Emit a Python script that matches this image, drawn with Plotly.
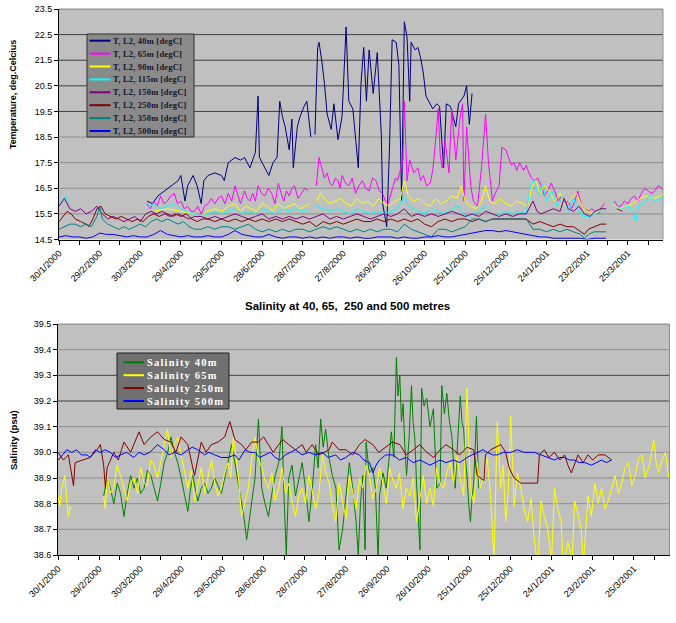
import pandas as pd
import plotly.graph_objects as go

W, H = 676, 623
START = pd.Timestamp("2000-01-30")
END_DAY = 446
FONT = "Liberation Sans, Arial, sans-serif"
SERIF = "Liberation Serif, Times New Roman, serif"

# ---------------- Temperature data (days since 30/1/2000, deg C) ----------------
t40_days = [65, 69, 73, 78, 83, 88, 90, 93, 95, 99,
            102, 105, 107, 110, 115, 120, 122, 125, 130, 134,
            137, 141, 145, 147, 148, 152, 155, 158, 161, 163,
            165, 167, 170, 172, 173, 176, 178, 181, 183, 186,
            187, 189, 191, 192, 194, 196, 198, 201, 203, 206,
            209, 212, 214, 217, 219, 221, 223, 225, 227, 229,
            232, 235, 238, 239, 242, 244, 246, 249, 251, 253,
            255, 257, 259, 260, 263, 265, 267, 269, 271, 275,
            276, 279, 281, 284, 286, 289, 293, 295, 299, 301,
            303, 305]
t40_vals = [16.0, 15.9, 16.2, 16.4, 16.6, 16.8, 17.0, 16.0, 16.6, 17.0,
            16.6, 15.9, 16.8, 17.0, 17.1, 17.0, 16.8, 17.5, 17.7, 17.6,
            17.7, 17.3, 17.9, 20.1, 17.7, 17.3, 17.0, 17.5, 17.7, 19.9,
            19.3, 18.9, 18.0, 19.2, 17.3, 18.9, 19.3, 19.7, 19.9, 18.5,
            None, 18.6, 22.0, 22.2, 21.5, 20.6, 19.4, 18.8, 19.8, 18.4,
            19.3, 22.8, 19.9, 19.6, 18.4, 17.3, 20.6, 22.0, 19.9, 21.9,
            20.2, 21.8, 18.6, 15.9, 15.0, 18.0, 22.3, 22.2, 21.3, 16.0,
            23.0, 22.4, 19.9, 22.2, 21.9, 22.0, 21.6, 21.0, 20.1, 19.7,
            19.6, 19.8, 19.7, 17.3, 19.8, 19.7, 18.9, 19.8, 20.1, 20.5,
            19.0, 20.2]

t65_days = [65, 67.5, 70, 72.5, 75, 77.5, 80, 82.5, 85, 87.5,
            90, 92.5, 95, 97.5, 100, 102.5, 105, 107.5, 110, 112.5,
            115, 117.5, 120, 122.5, 125, 127.5, 130, 132, 134, 137,
            139, 141, 143, 145, 147, 149.5, 152, 154.5, 157, 159.5,
            162, 164, 166, 168, 170, 172, 174, 176.5, 179, 181.5,
            184, 187, 190, 192, 194, 196, 198, 200, 202, 204,
            206, 207.5, 209, 211.5, 214, 216.5, 219, 221.5, 224, 226.5,
            229, 231.5, 234, 236.5, 239, 241, 243, 245, 247, 248.5,
            250, 252, 254, 255, 257, 259, 262, 265, 267, 269,
            271.5, 274, 276, 278, 280, 281.5, 283, 285, 288, 290,
            293, 296, 298, 299, 301, 304, 306, 309, 312, 315,
            317, 320, 322, 325, 327, 330, 332, 334, 336, 338,
            340, 343, 345, 347, 349, 351, 353.5, 356, 358.5, 361,
            363.5, 366, 368.5, 371, 373.5, 376, 378.5, 381, 383, 386,
            388.5, 391, 393.5, 396, 398.5, 401, 403, 406, 410, 412.5,
            415, 417.5, 420, 422.5, 425, 427.5, 430, 432.5, 435, 437.5,
            440, 442.5, 445, 447, 449]
t65_vals = [15.9, 15.7, 16.0, 15.8, 16.2, 15.9, 16.0, 16.2, 16.3, 15.9,
            16.0, 15.7, 15.8, 15.6, 15.6, 15.8, 15.5, 15.8, 15.9, 16.1,
            15.9, 16.1, 16.2, 15.9, 16.3, 16.0, 16.6, 16.2, 15.9, 16.4,
            16.1, 16.0, 16.3, 16.0, 16.6, 16.3, 16.2, 16.5, 16.3, 15.9,
            16.7, 16.3, 16.0, 16.4, 16.2, 16.5, 16.6, 16.1, 16.3, 16.5,
            16.4, None, 16.6, 17.7, 17.3, 16.9, 17.1, 16.7, 16.6, 16.9,
            16.8, 16.5, 17.0, 16.7, 16.6, 16.9, 16.3, 16.6, 16.8, 16.5,
            16.4, 16.9, 16.8, 16.4, 16.3, 16.0, 15.9, 16.3, 16.6, 16.9,
            16.8, 17.2, 17.6, 19.9, 16.8, 17.6, 17.1, 17.3, 16.8, 17.0,
            16.6, 16.7, 17.2, 18.3, 19.6, 17.8, 17.3, 18.4, 17.1, 19.6,
            17.6, 19.2, 19.8, 16.0, 18.9, 16.6, 16.0, 15.8, 17.3, 19.4,
            17.6, 16.0, 16.3, 16.6, 18.1, 18.0, 17.7, 17.4, 17.5, 17.2,
            17.5, 17.2, 17.4, 17.1, 16.9, 16.8, 16.9, 16.6, 16.2, 16.4,
            16.7, 16.4, 16.0, 16.2, 15.9, 16.0, 15.7, 16.0, 16.4, 15.8,
            15.7, 15.6, 15.7, 15.6, 15.5, 15.8, 15.9, None, 16.0, 15.8,
            15.8, 16.0, 15.9, 16.1, 16.2, 16.0, 16.3, 16.5, 16.4, 16.3,
            16.4, 16.6, 16.5, 16.4, 16.6]

t90_days = [70, 80, 90, 100, 105, 110, 115, 120, 125, 130,
            134, 138, 142, 146, 150, 154, 158, 162, 166, 170,
            174, 178, 182, 185, 187, 190, 193, 196, 200, 204,
            208, 212, 216, 220, 224, 228, 232, 236, 240, 244,
            248, 252, 255, 258, 262, 266, 270, 274, 278, 282,
            286, 290, 294, 297, 300, 304, 308, 312, 315, 318,
            322, 326, 330, 334, 338, 342, 346, 349, 352, 355,
            358, 362, 366, 370, 374, 378, 382, 386, 390, 394,
            398, 403, 406, 409, 414, 419, 424, 429, 434, 439,
            444, 449]
t90_vals = [15.6, 15.7, 15.6, 15.5, 15.4, 15.6, 15.7, 15.6, 15.8, 15.9,
            15.6, 15.8, 15.7, 15.6, 15.9, 15.8, 15.6, 15.9, 15.7, 15.8,
            15.9, 15.7, 15.8, 15.9, None, 16.0, 16.3, 16.1, 15.9, 16.0,
            16.1, 15.9, 15.8, 16.1, 15.9, 16.0, 15.8, 16.1, 15.9, 15.8,
            16.0, 16.1, 16.8, 16.2, 16.0, 16.1, 15.9, 15.8, 16.1, 15.9,
            16.0, 16.2, 16.1, 16.6, 16.0, 15.8, 15.7, 16.0, 16.6, 16.0,
            15.9, 16.1, 15.9, 15.8, 16.0, 15.9, 15.8, 16.5, 16.8, 16.3,
            16.6, 16.4, 16.0, 16.3, 15.8, 16.1, 16.3, 15.8, 15.6, 15.5,
            15.6, 15.7, None, 15.9, 15.7, 15.8, 15.9, 16.1, 16.2, 16.1,
            16.2, 16.4]

t115_days = [0, 3, 5, 7, 9, 10, 65, 70, 75, 80,
             85, 90, 95, 100, 105, 110, 115, 120, 125, 130,
             135, 140, 145, 150, 155, 160, 165, 170, 175, 180,
             185, 187, 190, 195, 200, 205, 210, 215, 220, 225,
             230, 235, 240, 245, 250, 255, 258, 262, 266, 270,
             275, 280, 285, 290, 295, 298, 302, 306, 310, 315,
             320, 325, 330, 335, 340, 345, 348, 351, 354, 357,
             360, 364, 368, 372, 376, 380, 384, 388, 392, 396,
             400, 403, 406, 408, 412, 416, 420, 424, 426, 428,
             432, 436, 440, 444, 449]
t115_vals = [15.8, 16.1, 16.2, 15.9, 15.8, None, 15.7, 15.9, 15.7, 15.8,
             15.9, 15.7, 15.6, 15.5, 15.4, 15.5, 15.6, 15.5, 15.6, 15.7,
             15.5, 15.6, 15.5, 15.7, 15.6, 15.5, 15.7, 15.6, 15.7, 15.6,
             15.7, None, 15.8, 15.7, 15.6, 15.7, 15.6, 15.5, 15.7, 15.6,
             15.5, 15.6, 15.5, 15.6, 15.7, 16.2, 15.8, 15.7, 15.6, 15.5,
             15.7, 15.6, 15.5, 15.7, 15.8, 15.5, 15.4, 15.5, 15.6, 15.8,
             15.5, 15.5, 15.6, 15.5, 15.6, 15.5, 16.6, 16.8, 16.2, 16.7,
             16.0, 16.4, 15.8, 16.2, 15.6, 16.1, 15.6, 15.4, 15.4, 15.5,
             15.6, 15.7, None, 16.0, 15.8, 15.7, 15.8, 15.6, 15.2, 15.8,
             15.9, 16.2, 16.0, 16.1, 16.3]

t150_days = [0, 4, 8, 12, 16, 20, 24, 28, 32, 36,
             40, 44, 48, 52, 56, 60, 64, 68, 72, 76,
             80, 84, 88, 92, 96, 100, 105, 110, 115, 120,
             125, 130, 135, 140, 145, 150, 155, 160, 165, 170,
             175, 180, 185, 190, 195, 200, 205, 210, 215, 220,
             225, 230, 235, 240, 245, 250, 255, 260, 265, 270,
             275, 280, 285, 290, 295, 300, 305, 310, 315, 320,
             325, 330, 335, 340, 345, 350, 353, 356, 360, 365,
             370, 373, 376, 380, 384, 388, 392, 396, 400, 404,
             408, 412, 416]
t150_vals = [15.8, 16.1, 15.7, 15.6, 15.7, 15.5, 15.6, 15.8, 15.5, 15.3,
             15.4, 15.3, 15.2, 15.3, 15.4, 15.2, 15.5, 15.6, 15.5, 15.6,
             15.5, 15.4, 15.5, 15.4, 15.3, 15.4, 15.4, 15.3, 15.4, 15.3,
             15.4, 15.5, 15.4, 15.3, 15.4, 15.5, 15.3, 15.4, 15.3, 15.4,
             15.3, 15.4, 15.3, 15.4, 15.5, 15.3, 15.4, 15.3, 15.4, 15.5,
             15.4, 15.3, 15.4, 15.5, 15.4, 15.5, 15.7, 15.4, 15.5, 15.4,
             15.5, 15.4, 15.5, 15.6, 15.5, 15.4, 15.5, 15.4, 15.6, 15.5,
             15.4, 15.5, 15.4, 15.5, 15.5, 16.0, 15.6, 15.5, 15.6, 15.7,
             15.6, 16.1, 15.7, 15.6, 15.8, 15.5, 15.4, 15.6, 15.7, 15.7,
             None, 15.7, 15.6]

t250_days = [0, 3, 6, 9, 12, 16, 20, 22, 25, 28,
             31, 34, 38, 42, 46, 50, 54, 58, 62, 66,
             70, 74, 78, 82, 86, 90, 94, 98, 102, 106,
             110, 115, 120, 125, 130, 135, 140, 145, 150, 155,
             160, 165, 170, 175, 180, 185, 190, 195, 200, 205,
             210, 215, 220, 225, 230, 235, 240, 245, 250, 255,
             260, 265, 270, 275, 280, 285, 290, 295, 300, 305,
             310, 315, 320, 325, 330, 335, 340, 345, 350, 355,
             360, 365, 370, 375, 380, 385, 388, 391, 395, 400,
             404]
t250_vals = [15.2, 15.4, 15.6, 15.5, 15.3, 15.2, 15.1, 15.0, 15.3, 15.7,
             15.8, 15.5, 15.4, 15.3, 15.4, 15.3, 15.2, 15.3, 15.2, 15.4,
             15.5, 15.4, 15.5, 15.4, 15.5, 15.4, 15.5, 15.3, 15.2, 15.3,
             15.3, 15.2, 15.3, 15.2, 15.3, 15.2, 15.3, 15.2, 15.3, 15.2,
             15.3, 15.2, 15.3, 15.2, 15.1, 15.2, 15.0, 15.2, 15.1, 15.2,
             15.1, 15.2, 15.3, 15.2, 15.2, 15.3, 15.2, 15.3, 15.2, 15.3,
             15.2, 15.3, 15.1, 15.0, 15.2, 15.3, 15.2, 15.3, 15.3, 15.2,
             15.3, 15.2, 15.3, 15.3, 15.3, 15.3, 15.3, 15.3, 15.1, 15.2,
             15.1, 15.0, 15.1, 15.0, 15.0, 14.8, 14.7, 14.9, 15.0, 15.1,
             15.1]

t350_days = [0, 4, 8, 12, 16, 20, 24, 28, 30, 32,
             36, 40, 44, 48, 52, 56, 60, 64, 68, 72,
             76, 80, 84, 88, 92, 96, 100, 105, 110, 115,
             120, 125, 130, 135, 140, 145, 150, 155, 160, 165,
             170, 175, 180, 185, 190, 195, 200, 205, 210, 215,
             220, 225, 230, 235, 240, 245, 250, 255, 260, 265,
             270, 275, 280, 285, 290, 295, 300, 305, 310, 315,
             320, 325, 330, 335, 340, 345, 350, 355, 360, 365,
             370, 375, 380, 385, 388, 391, 395, 400, 404]
t350_vals = [14.9, 15.0, 15.1, 15.1, 15.0, 15.1, 15.0, 15.4, 15.8, 15.3,
             15.1, 15.0, 14.9, 15.0, 14.9, 15.0, 15.1, 15.0, 15.2, 15.3,
             15.2, 15.3, 15.2, 15.1, 15.2, 15.0, 14.9, 14.9, 15.0, 14.9,
             15.0, 15.0, 14.9, 15.0, 15.1, 14.9, 14.8, 14.9, 14.8, 14.9,
             14.8, 14.9, 14.9, 14.8, 14.9, 15.0, 14.9, 15.0, 14.9, 14.8,
             14.9, 14.8, 14.9, 14.8, 14.9, 14.9, 14.8, 15.1, 14.9, 14.8,
             14.7, 14.6, 14.9, 14.9, 14.8, 14.9, 15.0, 15.3, 15.3, 15.2,
             15.3, 15.3, 15.3, 15.3, 15.3, 15.3, 14.9, 14.9, 14.8, 14.9,
             14.8, 14.9, 14.8, 14.7, 14.55, 14.7, 14.8, 14.8, 14.8]

t500_days = [0, 5, 10, 15, 20, 25, 30, 35, 40, 45,
             50, 55, 60, 65, 70, 75, 80, 85, 90, 95,
             100, 105, 110, 115, 120, 125, 130, 135, 140, 145,
             150, 155, 160, 165, 170, 175, 180, 185, 190, 195,
             200, 205, 210, 215, 220, 225, 230, 235, 240, 245,
             250, 255, 260, 265, 270, 275, 280, 285, 290, 295,
             300, 305, 310, 315, 320, 325, 330, 335, 340, 345,
             350, 355, 360, 365, 370, 375, 380, 385, 390, 395,
             400, 404]
t500_vals = [14.6, 14.65, 14.6, 14.6, 14.55, 14.6, 14.75, 14.7, 14.7, 14.65,
             14.6, 14.65, 14.6, 14.6, 14.7, 14.85, 14.7, 14.65, 14.6, 14.65,
             14.6, 14.6, 14.65, 14.6, 14.6, 14.7, 14.85, 14.7, 14.65, 14.6,
             14.6, 14.7, 14.6, 14.55, 14.6, 14.6, 14.55, 14.6, 14.55, 14.6,
             14.55, 14.6, 14.6, 14.55, 14.6, 14.55, 14.55, 14.6, 14.6, 14.6,
             14.55, 14.6, 14.55, 14.55, 14.6, 14.6, 14.65, 14.6, 14.6, 14.65,
             14.7, 14.75, 14.8, 14.85, 14.85, 14.8, 14.85, 14.8, 14.75, 14.7,
             14.65, 14.6, 14.6, 14.55, 14.55, 14.55, 14.55, 14.55, 14.5, 14.55,
             14.55, 14.55]

# ---------------- Salinity data (days since 30/1/2000, psu) ----------------
s40_days = [33.3, 35.8, 38.2, 40.7, 43.2, 45.6, 48.1, 50.5, 53, 55.4,
            57.9, 60.3, 62.8, 65.2, 67.7, 70.1, 72.6, 75, 77.5, 80,
            82.4, 84.9, 87.3, 89.8, 92.2, 94.7, 96.5, 98.3, 100, 102,
            104.5, 106.9, 109.4, 111.8, 114.3, 116.7, 119.2, 121.6, 124.1, 126.6,
            129, 131.5, 133.9, 135.8, 137.6, 139.5, 141.3, 143.7, 146.2, 148.6,
            151, 153.5, 156, 158.4, 161, 163.4, 164.6, 166.5, 168.3, 170.7,
            173.2, 175.6, 178.1, 180.5, 183, 185.5, 187.9, 189.7, 191.6, 193.4,
            195.2, 197.6, 200.1, 202.7, 205, 207.6, 210, 212.5, 215, 217.4,
            219, 220.6, 222.3, 224, 224.7, 227, 229.6, 231.5, 233.5, 234.5,
            237, 239.4, 241.2, 243.1, 245, 246.8, 248, 249.3, 250.5, 251.7,
            253, 254.2, 256, 257.8, 259, 260.3, 261.5, 262.7, 264, 265.2,
            267, 268.9, 271.3, 273.8, 275, 276.2, 278.7, 279.9, 281.8, 283.6,
            285.5, 287.3, 288.5, 289.7, 291.5, 293.4, 294.6, 295.9, 297, 298.3,
            299.5, 300.8, 302, 303.2, 305.2, 306.9]
s40_vals = [38.83, 38.90, 38.86, 38.80, 38.88, 38.84, 38.75, 38.84, 38.91, 38.86,
            38.90, 38.84, 38.86, 38.93, 38.91, 38.86, 38.81, 38.88, 38.96, 39.00,
            39.06, 39.00, 38.96, 38.90, 38.83, 38.77, 38.85, 38.91, 38.86, 38.81,
            38.86, 38.88, 38.84, 38.86, 38.90, 38.87, 38.84, 38.90, 38.96, 39.03,
            38.96, 38.88, 38.81, 38.74, 38.66, 38.74, 38.81, 38.90, 39.13, 38.86,
            38.80, 38.75, 38.84, 38.91, 38.96, 39.10, 38.86, 38.60, 38.90, 38.95,
            38.83, 38.90, 38.96, 38.86, 38.73, 38.86, 39.03, 38.94, 39.13, 39.02,
            39.09, 38.98, 38.91, 38.86, 38.62, 38.70, 38.84, 38.96, 38.86, 38.73,
            38.60, 38.80, 38.91, 38.62, 39.04, 38.92, 38.94, 38.86, 38.58, 38.83,
            38.92, 38.86, 38.96, 39.08, 38.98, 39.37, 39.22, 39.30, 39.12, 39.19,
            39.02, 38.91, 39.05, 39.26, 39.12, 39.05, 38.88, 38.73, 38.62, 39.25,
            39.18, 39.21, 39.10, 39.17, 39.02, 38.86, 38.88, 39.26, 39.15, 39.23,
            39.12, 39.06, 38.95, 38.86, 39.04, 39.22, 39.12, 39.09, 38.98, 38.91,
            38.80, 38.73, 38.82, 38.88, 39.14, 38.86]

s65_days = [0, 1.5, 2.7, 5.1, 6.4, 7.6, 8.8, 10, 11, 33.3,
            34.5, 35.8, 38.2, 40.7, 43, 45.6, 48, 50.5, 53, 55.4,
            58, 60.3, 62.8, 65.2, 67.5, 70.1, 72.5, 75, 77.5, 79.9,
            82.4, 84.9, 87.3, 89.8, 92.2, 94.7, 97, 99.6, 102, 104.5,
            107, 109.4, 112, 114.3, 116.7, 119.2, 121.6, 124.1, 126, 127.8,
            129.6, 131.5, 133.9, 136, 138.8, 141, 143.7, 146, 148.6, 151,
            153.5, 156, 158.4, 161, 163.4, 166, 168.3, 171, 173.2, 175.6,
            178.1, 180.5, 183, 185.5, 187.9, 190.3, 192.8, 195, 197.7, 200,
            202.6, 205, 207.6, 210, 212.5, 215, 217.4, 220, 222.3, 224.7,
            227.2, 229.6, 232.1, 234.5, 237, 239.5, 241.9, 244.3, 246.8, 249,
            251.7, 254, 256.6, 259, 261.5, 264, 266.4, 268.8, 271.3, 273.8,
            276.2, 278.6, 281.1, 283.6, 286.1, 288.5, 291, 293.4, 295.9, 298.3,
            300.8, 303.2, 305.7, 308, 310.6, 313, 315.5, 318, 320.4, 322.9,
            324.7, 326.5, 328.4, 330.2, 332.7, 335, 337.6, 340, 342.5, 345,
            347.4, 350, 352.3, 354.8, 357.2, 360, 362.1, 364.5, 367, 368.5,
            371.9, 375, 376.8, 379.2, 381.7, 383, 386.6, 389, 391.5, 394,
            396.4, 399, 401.3, 403.8, 406.3, 408.7, 411.2, 413.6, 416.1, 418.5,
            421, 423.5, 425.9, 428.3, 430.8, 432.6, 434.5, 436.3, 438.1, 440.5,
            443, 445.5, 448]
s65_vals = [38.83, 38.79, 38.86, 38.91, 38.81, 38.75, 38.79, 38.78, None, 38.83,
            38.78, 38.91, 38.84, 38.86, 38.95, 38.91, 38.86, 38.81, 38.88, 38.90,
            38.84, 38.94, 38.88, 38.87, 38.97, 38.95, 38.90, 38.96, 39.02, 39.09,
            38.98, 39.03, 39.06, 38.99, 38.92, 38.86, 38.93, 38.81, 38.87, 38.94,
            38.84, 38.91, 38.97, 38.88, 38.83, 38.86, 38.92, 38.96, 38.90, 39.06,
            38.98, 38.91, 38.75, 38.80, 38.86, 38.96, 39.06, 38.98, 38.94, 38.89,
            38.86, 38.92, 38.81, 38.86, 38.94, 38.84, 38.88, 38.80, 38.75, 38.83,
            38.86, 38.80, 38.91, 38.85, 38.78, 38.84, 38.99, 38.93, 38.88, 38.80,
            38.73, 38.88, 38.81, 38.74, 38.91, 38.85, 38.78, 38.90, 38.86, 38.95,
            38.91, 38.82, 38.86, 38.94, 38.88, 38.80, 38.94, 38.89, 38.86, 38.92,
            38.78, 38.86, 38.83, 38.90, 38.73, 38.82, 38.91, 38.80, 38.86, 38.79,
            38.94, 38.88, 38.86, 38.92, 38.96, 38.88, 38.99, 38.90, 38.83, 39.25,
            38.86, 38.80, 38.96, 38.86, 38.91, 38.98, 38.83, 38.58, 39.12, 38.86,
            38.95, 38.73, 38.85, 39.14, 38.79, 38.92, 38.86, 38.78, 38.73, 38.82,
            38.66, 38.55, 38.81, 38.75, 38.70, 38.57, 38.86, 38.78, 38.73, 38.55,
            38.65, 38.58, 38.81, 38.76, 38.70, 38.55, 38.83, 38.75, 38.88, 38.80,
            38.86, 38.78, 38.81, 38.86, 38.91, 38.84, 38.88, 38.94, 38.96, 38.87,
            38.91, 38.98, 38.99, 38.90, 38.94, 38.99, 39.05, 38.96, 38.92, 38.97,
            39.00, 38.90, 38.94]

s250_days = [0, 3.9, 7.6, 11.3, 12.5, 18.6, 23.5, 28.4, 30.9, 33.3,
             34.6, 35.8, 40.7, 44, 48.1, 53, 59.1, 62.8, 67.7, 72.6,
             77.5, 82.4, 86, 89.8, 94.7, 98.3, 99.6, 104.5, 108, 111.8,
             116.7, 121.6, 125.3, 129, 133.9, 137, 141.3, 146.2, 150, 153.5,
             157, 160.9, 164, 168.3, 173.2, 178.1, 181, 185.4, 190.3, 197.7,
             200, 205, 210, 215, 219.8, 224, 229.6, 234, 239.4, 244,
             249.3, 254, 259.1, 264, 268.9, 274, 278.7, 283, 288.5, 293,
             298.3, 303.2, 305.7, 308.1, 310.6, 311.8, 315.5, 322.9, 326.5, 329,
             332.7, 337.6, 344.9, 349.8, 351.1, 354.7, 358, 362.1, 366, 369.5,
             371.9, 374.4, 379.3, 383, 386.6, 390, 394, 398.9, 403.8]
s250_vals = [39.00, 38.97, 38.99, 38.87, 38.96, 38.97, 38.98, 39.01, 39.03, 38.95,
             38.86, 38.94, 39.00, 38.97, 39.04, 39.00, 39.08, 39.03, 39.06, 39.08,
             39.05, 39.04, 39.00, 39.06, 39.03, 38.94, 38.91, 39.04, 39.00, 39.03,
             39.04, 39.06, 39.12, 39.05, 39.03, 39.01, 39.04, 39.04, 39.06, 39.03,
             39.00, 39.03, 39.05, 39.03, 39.01, 39.03, 39.00, 39.03, 38.99, 39.01,
             39.04, 39.01, 39.01, 38.99, 39.03, 39.05, 39.03, 39.00, 39.02, 39.04,
             39.03, 38.99, 39.01, 39.03, 39.00, 38.98, 39.01, 39.03, 39.01, 38.99,
             39.02, 39.01, 38.91, 38.90, 38.89, 38.99, 39.01, 39.03, 39.00, 38.94,
             38.90, 38.88, 38.88, 38.88, 38.99, 39.01, 38.98, 39.00, 38.97, 38.99,
             38.95, 38.92, 38.99, 38.96, 38.99, 38.97, 38.99, 38.99, 38.97]

s500_days = [0.2, 6.4, 10, 13.7, 17, 21.1, 23.5, 27.2, 30.9, 34.5,
             38.2, 42, 45.6, 50, 55.4, 59, 62.8, 67, 72.6, 77.5,
             81, 84.9, 90, 94.7, 98, 102, 106.9, 110, 114.3, 119,
             124.1, 129, 132, 136.4, 140, 143.7, 147, 151.1, 155, 158.4,
             162, 165.8, 170, 173.2, 178, 183, 188, 192.8, 197, 202.6,
             206, 210, 215, 219.8, 223, 227.2, 229.6, 232, 234.5, 239,
             244.4, 249, 254.2, 259, 264, 268, 271.3, 275, 278.7, 283,
             288.5, 293, 298.3, 302, 305.7, 310, 313, 317, 320.4, 325,
             330.2, 335, 340, 344, 347.4, 352.3, 357, 362.1, 366, 369.5,
             373, 376.8, 380, 384.2, 389.1, 393, 396.4, 400, 403.8]
s500_vals = [38.97, 39.01, 39.00, 39.01, 38.99, 38.99, 38.98, 39.01, 39.00, 39.01,
             39.00, 38.98, 38.99, 39.00, 38.98, 39.00, 38.99, 39.00, 39.03, 39.01,
             38.99, 39.00, 38.99, 39.01, 39.02, 39.01, 38.99, 39.00, 38.99, 38.98,
             38.98, 38.99, 38.97, 39.01, 39.00, 39.00, 38.98, 38.99, 39.00, 38.98,
             38.97, 38.99, 39.00, 39.01, 38.99, 39.00, 38.99, 39.00, 38.98, 38.99,
             38.97, 38.98, 39.00, 38.99, 38.97, 38.96, 38.92, 38.95, 38.97, 38.99,
             38.99, 38.97, 38.98, 38.96, 38.97, 38.96, 38.95, 38.96, 38.97, 38.96,
             38.97, 38.96, 38.98, 38.99, 39.00, 39.01, 39.00, 38.99, 38.99, 39.00,
             39.00, 39.01, 39.00, 39.00, 39.00, 38.99, 38.98, 38.97, 38.98, 38.98,
             38.97, 38.97, 38.96, 38.96, 38.95, 38.96, 38.97, 38.96, 38.97]

# ---------------- Labels, colours, ticks ----------------
temp_labels = ["T, L2, 40m [degC]", "T, L2, 65m [degC]", "T, L2, 90m [degC]",
               "T, L2, 115m [degC]", "T, L2, 150m [degC]", "T, L2, 250m [degC]",
               "T, L2, 350m [degC]", "T, L2, 500m [degC]"]
temp_colors = ["#000080", "#FF00FF", "#FFFF00", "#00FFFF",
               "#800080", "#800000", "#008080", "#0000FF"]
temp_series = [(t40_days, t40_vals), (t65_days, t65_vals), (t90_days, t90_vals),
               (t115_days, t115_vals), (t150_days, t150_vals), (t250_days, t250_vals),
               (t350_days, t350_vals), (t500_days, t500_vals)]

sal_labels = ["Salinity 40m", "Salinity 65m", "Salinity 250m", "Salinity 500m"]
sal_colors = ["#008000", "#FFFF00", "#800000", "#0000FF"]
sal_series = [(s40_days, s40_vals), (s65_days, s65_vals),
              (s250_days, s250_vals), (s500_days, s500_vals)]

temp_ticks = [14.5, 15.5, 16.5, 17.5, 18.5, 19.5, 20.5, 21.5, 22.5, 23.5]
sal_ticks = [38.6, 38.7, 38.8, 38.9, 39.0, 39.1, 39.2, 39.3, 39.4, 39.5]
temp_dark_grid = [19.5, 20.5, 21.5, 22.5]
sal_dark_grid = [39.2, 39.3]

temp_ytitle = "Temperature, deg.Celcius"
sal_ytitle = "Salinity (psu)"
sal_title = "Salinity at 40, 65,  250 and 500 metres"

# plot-area geometry in page pixels (left, right, top, bottom)
TOP_BOX = (59, 663, 9, 239.5)
BOT_BOX = (58, 669.5, 324, 555)


def to_dates(days):
    return [START + pd.to_timedelta(round(float(d) * 1440), unit="m") for d in days]


def px_x(p):
    return p / W


def px_y(p):
    return 1 - p / H


fig = go.Figure()

for (days, vals), name, col in zip(temp_series, temp_labels, temp_colors):
    assert len(days) == len(vals), name
    fig.add_trace(go.Scatter(x=to_dates(days), y=vals, mode="lines", name=name,
                             line=dict(color=col, width=1), xaxis="x", yaxis="y",
                             connectgaps=False, hoverinfo="skip"))

for (days, vals), name, col in zip(sal_series, sal_labels, sal_colors):
    assert len(days) == len(vals), name
    fig.add_trace(go.Scatter(x=to_dates(days), y=vals, mode="lines", name=name,
                             line=dict(color=col, width=1), xaxis="x2", yaxis="y2",
                             connectgaps=False, hoverinfo="skip"))

xrange = [START.strftime("%Y-%m-%d"), (START + pd.Timedelta(days=END_DAY)).strftime("%Y-%m-%d")]
DAY_MS = 86400000
xcommon = dict(type="date", range=xrange, tick0="2000-01-30", dtick=30 * DAY_MS,
               tickformat="%-d/%-m/%Y", tickangle=-45, ticks="outside", ticklen=4,
               tickcolor="black", showline=True, linecolor="black", linewidth=1,
               showgrid=False, zeroline=False, automargin=False,
               tickfont=dict(family=FONT, size=9, color="black"),
               minor=dict(dtick=15 * DAY_MS, tick0="2000-01-30", ticks="outside",
                          ticklen=4, tickcolor="black", showgrid=False))
ycommon = dict(ticks="outside", ticklen=4, tickcolor="black", showline=True,
               linecolor="black", linewidth=1, showgrid=False, zeroline=False,
               tickmode="array", tickformat=".1f", automargin=False,
               tickfont=dict(family=FONT, size=9, color="black"))

fig.update_layout(
    width=W, height=H, margin=dict(l=0, r=0, t=0, b=0, autoexpand=False),
    paper_bgcolor="white", plot_bgcolor="#C0C0C0", showlegend=False,
    xaxis=dict(domain=[px_x(TOP_BOX[0]), px_x(TOP_BOX[1])], anchor="y", **xcommon),
    yaxis=dict(domain=[px_y(TOP_BOX[3]), px_y(TOP_BOX[2])], anchor="x", range=[14.5, 23.5],
               tickvals=temp_ticks, **ycommon),
    xaxis2=dict(domain=[px_x(BOT_BOX[0]), px_x(BOT_BOX[1])], anchor="y2", **xcommon),
    yaxis2=dict(domain=[px_y(BOT_BOX[3]), px_y(BOT_BOX[2])], anchor="x2", range=[38.6, 39.5],
                tickvals=sal_ticks, **ycommon),
)

shapes = []
# horizontal gridlines (drawn under the traces)
for ticks, dark, yref, box in ((temp_ticks, temp_dark_grid, "y", TOP_BOX),
                               (sal_ticks, sal_dark_grid, "y2", BOT_BOX)):
    for v in ticks[1:]:
        col = "#404040" if v in dark else "#8e8e8e"
        shapes.append(dict(type="line", xref="paper", yref=yref,
                           x0=px_x(box[0]), x1=px_x(box[1]), y0=v, y1=v,
                           line=dict(color=col, width=1), layer="below"))
    # grey frame on top and right
    shapes.append(dict(type="line", xref="paper", yref="paper",
                       x0=px_x(box[0]), x1=px_x(box[1]), y0=px_y(box[2]), y1=px_y(box[2]),
                       line=dict(color="#909090", width=1), layer="above"))
    shapes.append(dict(type="line", xref="paper", yref="paper",
                       x0=px_x(box[1]), x1=px_x(box[1]), y0=px_y(box[3]), y1=px_y(box[2]),
                       line=dict(color="#909090", width=1), layer="above"))

annotations = [
    dict(text=f"<b>{temp_ytitle}</b>", x=px_x(13), y=px_y(95), xref="paper", yref="paper",
         textangle=-90, showarrow=False, xanchor="center", yanchor="middle",
         font=dict(family=FONT, size=9, color="black")),
    dict(text=f"<b>{sal_ytitle}</b>", x=px_x(13), y=px_y(440), xref="paper", yref="paper",
         textangle=-90, showarrow=False, xanchor="center", yanchor="middle",
         font=dict(family=FONT, size=9.5, color="black")),
    dict(text=f"<b>{sal_title}</b>", x=px_x(347), y=px_y(305.5), xref="paper", yref="paper",
         showarrow=False, xanchor="center", yanchor="middle",
         font=dict(family=FONT, size=11.5, color="black")),
]

# Legend 1 (temperature)
shapes.append(dict(type="rect", xref="paper", yref="paper", x0=px_x(87), x1=px_x(194),
                   y0=px_y(137), y1=px_y(34), fillcolor="#8a8a8a",
                   line=dict(color="#303030", width=1), layer="above"))
for i, (lab, col) in enumerate(zip(temp_labels, temp_colors)):
    yc = 40.7 + i * 12.9
    shapes.append(dict(type="line", xref="paper", yref="paper", x0=px_x(89.5), x1=px_x(110.5),
                       y0=px_y(yc), y1=px_y(yc), line=dict(color=col, width=2), layer="above"))
    annotations.append(dict(text=f'<span style="letter-spacing:0.2px"><b>{lab}</b></span>',
                            x=px_x(111), y=px_y(yc), xref="paper", yref="paper",
                            showarrow=False, xanchor="left", yanchor="middle",
                            font=dict(family=SERIF, size=8.5, color="#15152a")))

# Legend 2 (salinity)
shapes.append(dict(type="rect", xref="paper", yref="paper", x0=px_x(117), x1=px_x(229),
                   y0=px_y(409), y1=px_y(353), fillcolor="#707070",
                   line=dict(color="#202020", width=1), layer="above"))
for i, (lab, col) in enumerate(zip(sal_labels, sal_colors)):
    yc = 362.3 + i * 12.9
    shapes.append(dict(type="line", xref="paper", yref="paper", x0=px_x(123.5), x1=px_x(144),
                       y0=px_y(yc), y1=px_y(yc), line=dict(color=col, width=2), layer="above"))
    annotations.append(dict(text=f'<span style="letter-spacing:1.2px"><b>{lab}</b></span>',
                            x=px_x(145), y=px_y(yc), xref="paper", yref="paper",
                            showarrow=False, xanchor="left", yanchor="middle",
                            font=dict(family=SERIF, size=10.5, color="white")))

fig.update_layout(shapes=shapes, annotations=annotations)
fig.write_html("out.html")
